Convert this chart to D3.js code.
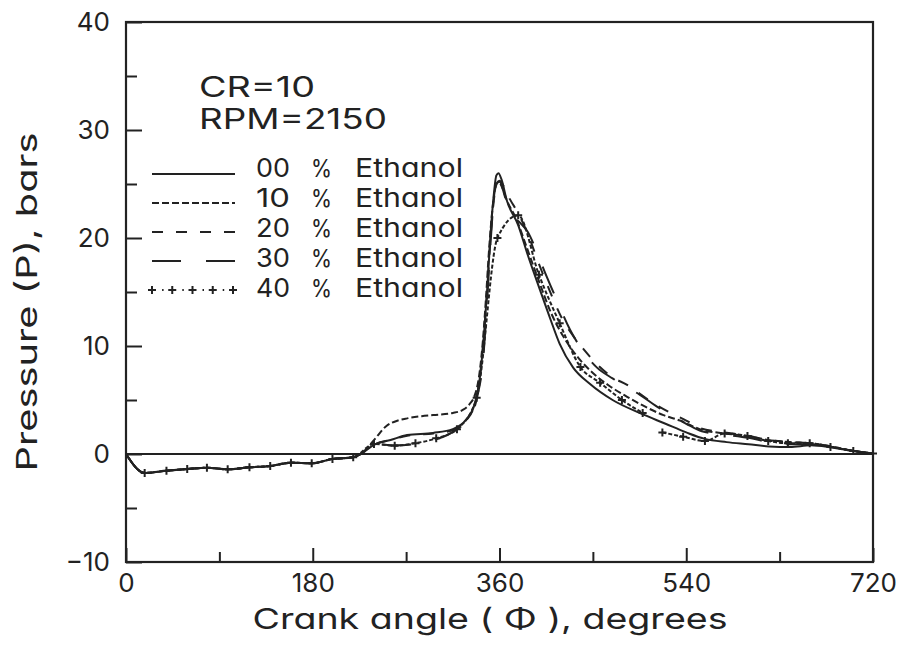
<!DOCTYPE html>
<html><head><meta charset="utf-8">
<script src="https://cdn.jsdelivr.net/npm/d3@7"></script>
<style>
body{margin:0;background:#fff;}
svg text{font-family:Inter,"DejaVu Sans",sans-serif;fill:#222;font-feature-settings:"cv11";}
</style></head><body>
<svg id="c" width="907" height="649"></svg>
<script>
// ---- data (crank angle in degrees, pressure in bars) ----
const intake = [[0,0],[18,-1.75],[39,-1.55],[59,-1.4],[78,-1.27],[98,-1.42],[119,-1.23],[139,-1.11],[159,-0.8],[179,-0.86],[199,-0.46],[219,-0.31]];
const eth00 = intake.concat([[226,0],[240,0.9],[255,1.3],[271,1.75],[296,1.95],[315,2.3],[328,3.2],[336,4.6],[341,7],[345,11],[348,15],[351,19.8],[354,23.5],[357,25.8],[359,26.0],[362,25.4],[367,23.5],[378,21.2],[387,18.5],[399,15.2],[409,12.5],[418,10.2],[431,8.0],[447,6.5],[469,5.0],[495,3.8],[520,2.8],[540,2.0],[558,1.4],[579,1.1],[600,0.9],[620,0.7],[640,0.65],[660,0.8],[680,0.6],[700,0.3],[720,0.05]]);
const eth10 = intake.concat([[226,0],[232,0.5],[240,1.4],[251,2.6],[262,3.1],[271,3.3],[285,3.5],[296,3.6],[315,3.8],[325,4.1],[331,4.6],[336,5.4],[340,7],[344,10.5],[347,14.5],[350,19],[353,22.5],[356,24.6],[359,25.2],[362,24.8],[367,23.5],[376,21.8],[386,19.2],[398,16],[410,13],[422,10.8],[436,8.9],[450,7.5],[466,6.3],[483,5.3],[500,4.4],[518,3.6],[534,3.1],[553,2.3],[577,1.9],[599,1.67],[619,1.3],[640,1.1],[660,1.0],[680,0.7],[700,0.3],[720,0.05]]);
const eth20 = intake.concat([[226,0],[240,0.9],[255,1.3],[271,1.7],[296,1.9],[315,2.2],[328,3.1],[336,4.6],[341,7],[345,11],[348,15],[351,19.5],[354,23],[357,25],[360,25.3],[364,24.8],[370,23.6],[378,22.3],[388,20.2],[398,17.6],[408,15.2],[420,12.6],[432,10.8],[442,9.6],[454,8.3],[469,7.1],[483,6.4],[495,5.6],[510,4.6],[525,3.8],[540,3.1],[553,2.4],[577,2.0],[599,1.7],[619,1.3],[640,1.1],[660,1.0],[680,0.7],[700,0.3],[720,0.05]]);
const eth30 = intake.concat([[226,0],[240,0.9],[259,0.8],[283,1.0],[293,1.2],[319,2.3],[333,3.6],[339,5.5],[344,8.5],[348,14],[351,19],[354,23],[357,25.0],[360,25.2],[366,23.6],[372,22.2],[380,21.4],[387,20.6],[394,19.2],[403,17],[415,14.3],[428,11.5],[440,9.6],[454,8.0],[469,7.0],[483,6.2],[495,5.5],[510,4.5],[525,3.6],[540,2.8],[555,2.1],[577,1.8],[600,1.5],[620,1.1],[640,0.9],[660,0.9],[680,0.65],[700,0.3],[720,0.05]]);
const eth40 = intake.concat([[239,0.93],[259,0.77],[279,1.0],[299,1.45],[319,2.3],[338,5.2],[358,20.0],[378,22.1],[398,16.6],[418,12.1],[438,8.05],[457,6.6],[478,5.0],[498,3.8],null,[517,2.0],[537,1.6],[558,1.2],[577,1.9],[599,1.67],[619,1.2],[638,1.0],[659,1.0],[679,0.65],[701,0.28],[720,0.05]]);

const seriesData = [eth00, eth10, eth20, eth30, eth40];
const legendNumbers = ["00","10","20","30","40"];
const xMajorTicks = [0,180,360,540,720];
const xMinorTicks = [90,270,450,630];
const yMajorTicks = [-10,0,10,20,30,40];
const yMinorTicks = [-5,5,15,25,35];
const infoLines = ["CR=10","RPM=2150"];

// ---- styles ----
const dashes = [null,"7,3","11,13","29,25","4,2"];
const ink = "#222";

const svg = d3.select("#c");
const x = d3.scaleLinear().domain([0,720]).range([126,873]);
const y = d3.scaleLinear().domain([-10,40]).range([562,22]);

// frame
svg.append("rect").attr("x",x(0)).attr("y",y(40)).attr("width",x(720)-x(0)).attr("height",y(-10)-y(40))
  .attr("fill","none").attr("stroke",ink).attr("stroke-width",2.2);
// zero line
svg.append("line").attr("x1",x(0)).attr("x2",x(720)).attr("y1",y(0)).attr("y2",y(0))
  .attr("stroke",ink).attr("stroke-width",2);

function styleAxis(g){
  g.select(".domain").remove();
  g.selectAll(".tick line").attr("stroke",ink).attr("stroke-width",2);
  g.selectAll(".tick text").attr("fill",ink).style("font-size","26px").style("font-family",null);
}
svg.append("g").attr("transform",`translate(0,${y(-10)})`)
  .call(d3.axisBottom(x).tickValues(xMinorTicks).tickSize(-10).tickFormat(""))
  .call(styleAxis);
svg.append("g").attr("transform",`translate(0,${y(-10)})`)
  .call(d3.axisBottom(x).tickValues(xMajorTicks).tickSize(-14).tickPadding(12).tickFormat(d3.format("d")))
  .call(styleAxis);
svg.append("g").attr("transform",`translate(${x(0)},0)`)
  .call(d3.axisLeft(y).tickValues(yMinorTicks).tickSize(-11).tickFormat(""))
  .call(styleAxis);
svg.append("g").attr("transform",`translate(${x(0)},0)`)
  .call(d3.axisLeft(y).tickValues(yMajorTicks).tickSize(-16).tickPadding(16).tickFormat(d => d < 0 ? "\u2212" + Math.abs(d) : d))
  .call(styleAxis);

// curves
const line = d3.line().defined(d => d != null).x(d => x(d[0])).y(d => y(d[1])).curve(d3.curveMonotoneX);
seriesData.forEach((s,i) => {
  svg.append("path").attr("d",line(s)).attr("fill","none").attr("stroke",ink)
    .attr("stroke-width",2).attr("stroke-dasharray",dashes[i]).attr("stroke-linejoin","round");
});
const plus = "M-4,0H4M0,-4V4";
svg.append("g").selectAll("path").data(eth40.filter(d => d != null && d[0] > 0)).join("path")
  .attr("d",plus).attr("transform",d => `translate(${x(d[0])},${y(d[1])})`)
  .attr("stroke",ink).attr("stroke-width",2).attr("fill","none");

// info text
svg.append("text").attr("x",199).attr("y",97).attr("textLength",116).attr("lengthAdjust","spacingAndGlyphs")
  .style("font-size","28px").text(infoLines[0]);
svg.append("text").attr("x",199).attr("y",129).attr("textLength",188).attr("lengthAdjust","spacingAndGlyphs")
  .style("font-size","28px").text(infoLines[1]);

// legend
legendNumbers.forEach((n,i) => {
  const by = 177 + i*30;
  const ly = 174 + i*29;
  svg.append("line").attr("x1",152).attr("x2",235).attr("y1",ly).attr("y2",ly)
    .attr("stroke",ink).attr("stroke-width",2).attr("stroke-dasharray",i === 4 ? "1.5,8.6" : dashes[i]);
  if (i === 4) {
    d3.range(152,240,20.25).forEach(mx => {
      svg.append("path").attr("d",plus).attr("transform",`translate(${mx},${ly})`)
        .attr("stroke",ink).attr("stroke-width",2);
    });
  }
  svg.append("text").attr("x",256).attr("y",by).attr("textLength",34).attr("lengthAdjust","spacingAndGlyphs").style("font-size","26px").text(n);
  svg.append("text").attr("x",311).attr("y",by).attr("textLength",21).attr("lengthAdjust","spacingAndGlyphs").style("font-size","24px").text("%");
  svg.append("text").attr("x",355).attr("y",by).attr("textLength",108).attr("lengthAdjust","spacingAndGlyphs").style("font-size","26px").text("Ethanol");
});

// axis titles
svg.append("text").attr("x",490).attr("y",629).attr("text-anchor","middle")
  .attr("textLength",475).attr("lengthAdjust","spacingAndGlyphs").style("font-size","29px")
  .text("Crank angle ( \u03A6 ), degrees");
svg.append("text").attr("transform","translate(37,302) rotate(-90)").attr("text-anchor","middle")
  .attr("textLength",339).attr("lengthAdjust","spacingAndGlyphs").style("font-size","29px")
  .text("Pressure (P), bars");
</script></body></html>
